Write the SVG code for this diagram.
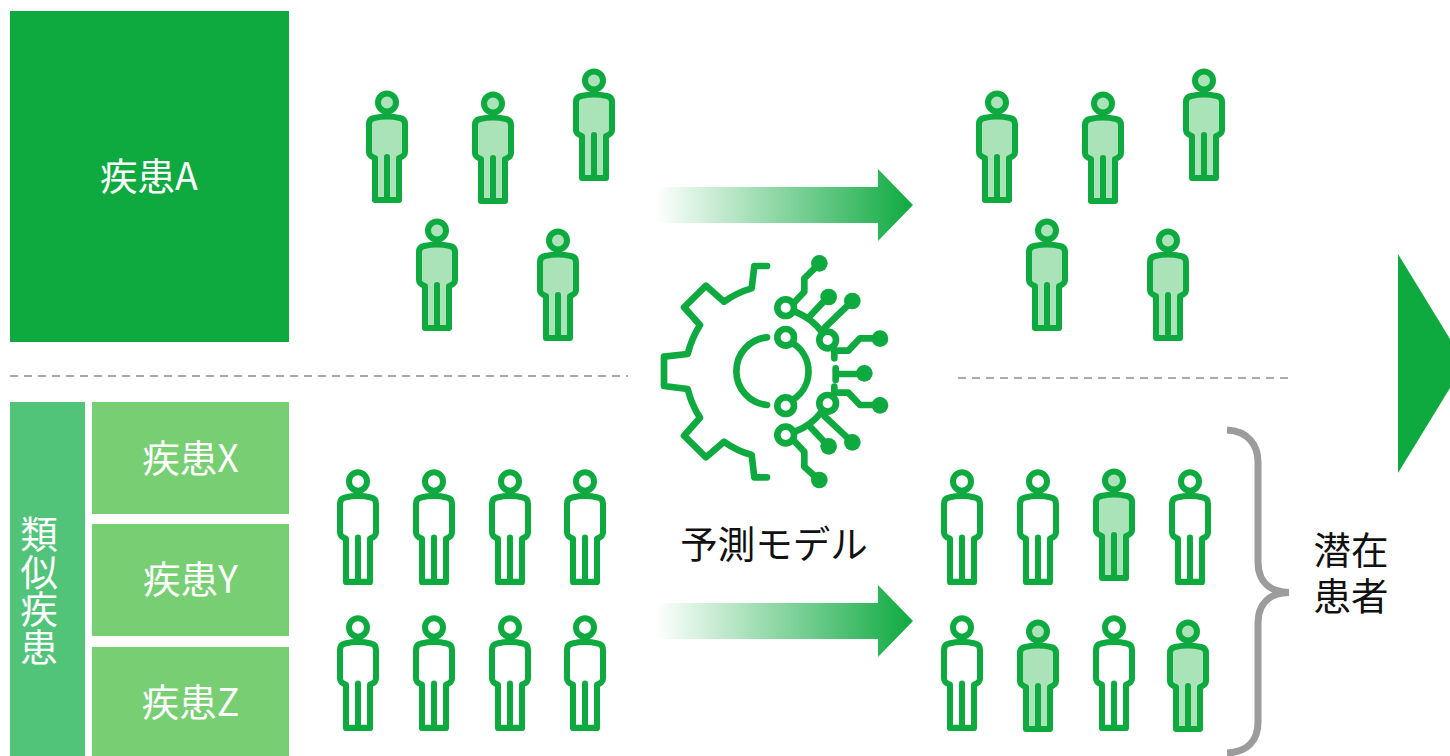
<svg xmlns="http://www.w3.org/2000/svg" xmlns:xlink="http://www.w3.org/1999/xlink" width="1450" height="756" viewBox="0 0 1450 756">
<style>
.t{font-family:"Noto Sans CJK JP","Noto Sans",sans-serif;font-size:37.500px;text-anchor:middle}
.v{writing-mode:vertical-rl;text-anchor:start}
.w{fill:#fff}.k{fill:#111}
.p{stroke:#0eaa40;stroke-width:6;stroke-linejoin:round;stroke-linecap:round}
.e{fill:#fff}.f{fill:#abe3b8}
.dash{stroke:#aaa;stroke-width:2;stroke-dasharray:8 6;fill:none}
.ic{fill:none;stroke:#0eaa40;stroke-width:20;stroke-linejoin:round;stroke-linecap:round}
.dot{fill:#0eaa40}
</style>
<defs>
<linearGradient id="g"><stop offset="0" stop-color="#0eaa40" stop-opacity="0"/><stop offset="1" stop-color="#0eaa40"/></linearGradient>
<g id="person"><path d="M-13,15 Q-18,16 -18,21 L-18,49 Q-18,53 -12,55 L-12,97 L12,97 L12,55 Q18,53 18,49 L18,21 Q18,16 13,15 Q0,12 -13,15 Z"/><path d="M0,54 L0,97" fill="none"/><circle cx="0" cy="-0.500" r="9"/></g>
</defs>
<rect id="node-a" x="10" y="11" width="279" height="331" fill="#0eaa40"/>
<g id="node-similar"><rect x="10" y="402" width="75" height="354" fill="#52c47a"/><text class="t v w" x="39" y="515">類似疾患</text></g>
<text class="t w" x="149" y="190">疾患A</text>
<g id="node-x"><rect x="92" y="402" width="197" height="112" fill="#78ce72"/><text class="t w" x="190.500" y="472">疾患X</text></g>
<g id="node-y"><rect x="92" y="524" width="197" height="112" fill="#78ce72"/><text class="t w" x="190.500" y="593">疾患Y</text></g>
<g id="node-z"><rect x="92" y="647" width="197" height="109" fill="#78ce72"/><text class="t w" x="190.500" y="716">疾患Z</text></g>
<g id="connectors">
<path class="dash" d="M10,376H628"/><path class="dash" d="M958,378H1288"/>
<path d="M656,187H878V169L913,205L878,241V223H656Z" fill="url(#g)"/>
<path d="M656,603H878V585L913,621L878,657V639H656Z" fill="url(#g)"/>
<path d="M1398,254L1465,363.500L1398,473Z" fill="#0eaa40"/>
<path d="M1227,430C1248,431 1258,445 1258,462V562C1258,582 1270,592 1289,592.500C1270,593 1258,603 1258,623V722C1258,740 1248,752 1227,753" fill="none" stroke="#9c9c9c" stroke-width="7"/>
</g>
<g id="persons" class="p">
<g class="f"><use xlink:href="#person" x="387" y="103"/><use xlink:href="#person" x="493" y="104"/><use xlink:href="#person" x="594" y="81"/><use xlink:href="#person" x="437" y="231"/><use xlink:href="#person" x="558" y="241"/><use xlink:href="#person" x="997" y="103"/><use xlink:href="#person" x="1103" y="104"/><use xlink:href="#person" x="1204" y="81"/><use xlink:href="#person" x="1047" y="231"/><use xlink:href="#person" x="1168" y="241"/><use xlink:href="#person" x="1114" y="481"/><use xlink:href="#person" x="1038" y="632"/><use xlink:href="#person" x="1188" y="632"/></g>
<g class="e"><use xlink:href="#person" transform="translate(358 482) scale(1 1.03)"/><use xlink:href="#person" transform="translate(434 482) scale(1 1.03)"/><use xlink:href="#person" transform="translate(510 482) scale(1 1.03)"/><use xlink:href="#person" transform="translate(585 482) scale(1 1.03)"/><use xlink:href="#person" transform="translate(358 628) scale(1 1.03)"/><use xlink:href="#person" transform="translate(434 628) scale(1 1.03)"/><use xlink:href="#person" transform="translate(510 628) scale(1 1.03)"/><use xlink:href="#person" transform="translate(585 628) scale(1 1.03)"/><use xlink:href="#person" transform="translate(962 482) scale(1 1.03)"/><use xlink:href="#person" transform="translate(1038 482) scale(1 1.03)"/><use xlink:href="#person" transform="translate(1190 482) scale(1 1.03)"/><use xlink:href="#person" transform="translate(962 628) scale(1 1.03)"/><use xlink:href="#person" transform="translate(1114 628) scale(1 1.03)"/></g>
</g>
<g id="model-icon" transform="translate(640 240) scale(.33333)">
<path class="ic" d="M381,78H343L335,145Q290,158 252,185L198,137L132,202L180,255Q155,295 143,342L72,350V438L143,447Q155,495 180,533L132,587L198,652L252,605Q290,632 335,645L343,712H381"/>
<path class="ic" d="M381,292A102,102 0 0 0 381,495"/>
<path class="ic" d="M462,312A100,100 0 0 1 462,477"/>
<circle class="ic" cx="437" cy="203" r="25"/><circle class="ic" cx="437" cy="292" r="25"/><circle class="ic" cx="437" cy="497" r="25"/><circle class="ic" cx="437" cy="585" r="25"/><circle class="ic" cx="563" cy="300" r="25"/><circle class="ic" cx="563" cy="490" r="25"/>
<path class="ic" d="M462,188L493,155V115L537,72M465,215Q515,235 545,275M510,228L565,170M555,262L637,183M583,332V355M590,332H625L660,295H720M587,385V420M587,402H672M583,440V458M590,458H625L660,495H720M465,575Q515,555 545,515M555,530L637,607M510,560L565,618M462,602L493,635V680L537,720"/>
<g class="dot"><circle cx="538" cy="70" r="25"/><circle cx="566" cy="171" r="25"/><circle cx="637" cy="183" r="25"/><circle cx="720" cy="296" r="25"/><circle cx="673" cy="400" r="25"/><circle cx="720" cy="496" r="25"/><circle cx="637" cy="607" r="25"/><circle cx="566" cy="619" r="25"/><circle cx="538" cy="720" r="25"/></g>
</g>
<text class="t k" x="774" y="558">予測モデル</text>
<g id="label-latent"><text class="t k" x="1351" y="564">潜在</text><text class="t k" x="1351" y="610">患者</text></g>
</svg>
